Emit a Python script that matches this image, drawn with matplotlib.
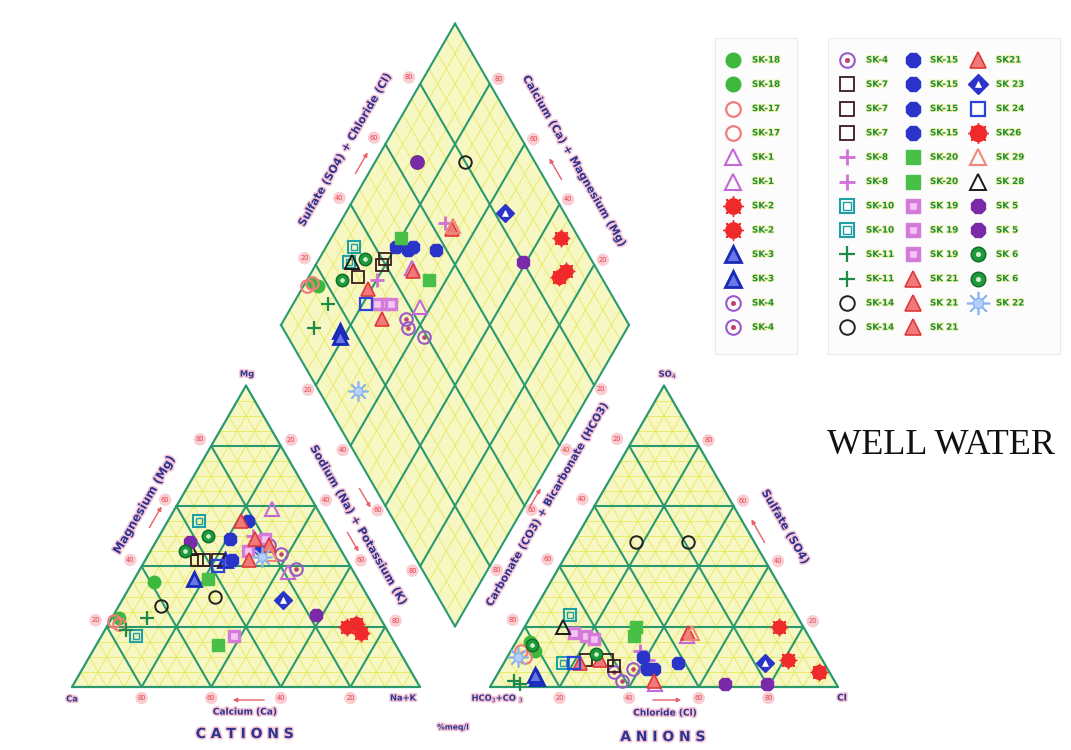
import numpy as np
import matplotlib
matplotlib.use('Agg')
import matplotlib.pyplot as plt
import matplotlib.patheffects as pe
from matplotlib.patches import Polygon, Rectangle

# ---------------- data ----------------
samples = ['SK-18', 'SK-18', 'SK-17', 'SK-17', 'SK-1', 'SK-1', 'SK-2', 'SK-2',
           'SK-3', 'SK-3', 'SK-4', 'SK-4', 'SK-4', 'SK-7', 'SK-7', 'SK-7',
           'SK-8', 'SK-8', 'SK-10', 'SK-10', 'SK-11', 'SK-11', 'SK-14', 'SK-14',
           'SK-15', 'SK-15', 'SK-15', 'SK-15', 'SK-20', 'SK-20', 'SK-19', 'SK-19',
           'SK-19', 'SK-21', 'SK-21', 'SK-21', 'SK-21', 'SK-23', 'SK-24', 'SK-26',
           'SK-29', 'SK-28', 'SK-5', 'SK-5', 'SK-6', 'SK-6', 'SK-22']

# cations: Mg % and Na+K % (Ca = remainder)
cation_mg = [35, 23, 21, 22, 59, 38, 20, 18, 36, 42, 39, 47, 44, 42, 42, 42,
             50, 47, 55, 17, 23, 19, 27, 30, 49, 55, 42, 46, 36, 14, 17, 49,
             45, 55, 49, 47, 42, 29, 40, 21, 44, 46, 24, 48, 50, 45, 43]
cation_nak = [6, 2, 3, 1, 28, 43, 69, 74, 17, 23, 45, 33, 38, 15, 17, 21,
              27, 32, 9, 10, 10, 6, 12, 26, 21, 23, 25, 31, 21, 35, 38, 31,
              28, 21, 28, 33, 30, 46, 22, 71, 35, 11, 58, 10, 14, 10, 33]

# anions: SO4 % and Cl % (HCO3+CO3 = remainder)
anion_so4 = [15, 12, 12, 10, 17, 1, 20, 9, 3, 4, 2, 5, 6, 9, 7, 9,
             12, 9, 24, 8, 1, 2, 48, 48, 10, 6, 8, 6, 17, 20, 18, 17,
             16, 9, 8, 18, 2, 8, 8, 5, 18, 20, 1, 1, 11, 14, 10]
anion_cl = [4, 7, 3, 5, 48, 47, 73, 81, 12, 11, 37, 33, 38, 29, 32, 23,
            37, 41, 11, 17, 8, 6, 18, 33, 39, 44, 50, 42, 33, 32, 15, 19,
            22, 27, 22, 48, 46, 75, 20, 92, 49, 11, 67, 79, 25, 5, 3]

# diamond: SO4+Cl % and Ca+Mg %
diamond_so4cl = [16, 17, 14, 16, 47, 43, 95, 91, 16, 15, 37, 39, 36, 39, 30, 41,
                 64, 35, 34, 30, 17, 9, 80, 66, 46, 49, 57, 51, 49, 50, 33, 35,
                 31, 30, 31, 65, 47, 83, 28, 88, 66, 31, 80, 66, 35, 25, 11]
diamond_camg = [98, 96, 99, 98, 72, 63, 34, 27, 82, 81, 65, 57, 63, 81, 86, 81,
                70, 80, 92, 91, 90, 90, 74, 88, 80, 76, 68, 75, 80, 65, 74, 72,
                76, 72, 81, 67, 71, 54, 79, 28, 67, 90, 41, 88, 87, 90, 67]

legend_col1 = ['SK-18', 'SK-18', 'SK-17', 'SK-17', 'SK-1', 'SK-1', 'SK-2', 'SK-2',
               'SK-3', 'SK-3', 'SK-4', 'SK-4']
legend_col2 = ['SK-4', 'SK-7', 'SK-7', 'SK-7', 'SK-8', 'SK-8', 'SK-10', 'SK-10',
               'SK-11', 'SK-11', 'SK-14', 'SK-14']
legend_col3 = ['SK-15', 'SK-15', 'SK-15', 'SK-15', 'SK-20', 'SK-20', 'SK 19', 'SK 19',
               'SK 19', 'SK 21', 'SK 21', 'SK 21']
legend_col4 = ['SK21', 'SK 23', 'SK 24', 'SK26', 'SK 29', 'SK 28', 'SK 5', 'SK 5',
               'SK 6', 'SK 6', 'SK 22']

grid_levels = [20, 40, 60, 80]
fine_levels = list(range(5, 100, 5))

# ---------------- layout ----------------
S = 348.0
H = S * np.sqrt(3) / 2
BASE_Y = 687.0
CAT_X0 = 72.0
GAP = 70.0
AN_X0 = CAT_X0 + S + GAP
DIA_X = CAT_X0 + S + GAP / 2
DIA_Y = BASE_Y - GAP / 2 * np.sqrt(3)


def cat_xy(mg, nak):
    mg = np.asarray(mg, float); nak = np.asarray(nak, float)
    return CAT_X0 + (nak + mg / 2) / 100 * S, BASE_Y - mg / 100 * H


def an_xy(so4, cl):
    so4 = np.asarray(so4, float); cl = np.asarray(cl, float)
    return AN_X0 + (cl + so4 / 2) / 100 * S, BASE_Y - so4 / 100 * H


def dia_xy(s, c):
    s = np.asarray(s, float); c = np.asarray(c, float)
    return DIA_X + (s - c) / 100 * S / 2, DIA_Y - (s + c) / 100 * H


RED = '#f02a2a'
STYLE = {
    'SK-18': [('o', '#3cb83c', '#3cb83c', 1.0, 1.0)],
    'SK-17': [('o', 'none', '#f07c7c', 1.0, 1.6)],
    'SK-1': [('^', 'none', '#c468d8', 1.05, 1.5)],
    'SK-2': [((8, 2, 0), 'none', RED, 1.4, 1.0), ('o', RED, RED, 1.05, 1.0)],
    'SK-3': [('^', '#6a78e6', '#1a2ab8', 1.05, 2.0)],
    'SK-4': [('o', 'none', '#9a58c8', 1.0, 1.5), ('o', '#c04070', '#c04070', 0.3, 0.5)],
    'SK-7': [('s', 'none', '#3a1c1c', 1.0, 1.3)],
    'SK-8': [('+', 'none', '#d070d8', 1.1, 2.0)],
    'SK-10': [('s', 'none', '#1ea0a8', 1.0, 1.5), ('s', 'none', '#1ea0a8', 0.5, 1.0)],
    'SK-11': [('+', 'none', '#1e8a4a', 1.1, 1.6)],
    'SK-14': [('o', 'none', '#222222', 1.0, 1.4)],
    'SK-15': [('8', '#2a34c8', '#2a34c8', 1.05, 1.0)],
    'SK-20': [('s', '#48c048', '#48c048', 1.0, 1.0)],
    'SK-19': [('s', '#d47ad8', '#d47ad8', 1.0, 1.0), ('s', '#f4c4f4', '#f4c4f4', 0.45, 0.5)],
    'SK-21': [('^', '#f07a7a', '#e03838', 1.1, 1.2)],
    'SK-23': [('D', '#2a34c8', '#2a34c8', 1.0, 1.0), ('^', 'white', 'white', 0.45, 0.5)],
    'SK-24': [('s', 'none', '#2a44d8', 1.0, 1.6)],
    'SK-26': [((8, 2, 0), 'none', RED, 1.4, 1.0), ('o', RED, RED, 1.1, 1.0)],
    'SK-29': [('^', 'none', '#f08878', 1.05, 1.5)],
    'SK-28': [('^', 'none', '#1a1a1a', 1.05, 1.4)],
    'SK-5': [('8', '#7a2aa8', '#7a2aa8', 1.05, 1.0)],
    'SK-6': [('o', '#1e9a3a', '#0e6a2a', 1.0, 1.0), ('o', '#d8f0d0', '#d8f0d0', 0.3, 0.5)],
    'SK-22': [((8, 2, 0), 'none', '#8cb4f0', 1.6, 1.2), ('o', '#b4d0f8', '#8cb4f0', 0.7, 1.0)],
}


def draw_marker(ax, xs, ys, name, ms, z):
    for (m, fc, ec, f, lw) in STYLE[name]:
        ax.plot(xs, ys, ls='none', marker=m, ms=ms * f, mfc=fc, mec=ec, mew=lw, zorder=z)


def key_of(label):
    return 'SK-' + ''.join(ch for ch in label if ch.isdigit())


fig = plt.figure(figsize=(10.71, 7.5), dpi=100)
ax = fig.add_axes([0, 0, 1, 1])
ax.set_xlim(0, 1071)
ax.set_ylim(750, 0)
ax.axis('off')

FILL = '#f7f7c4'
FINE = '#e8e85a'
GRID = '#2a9a6e'
BLUE = '#2b3590'
PINK = '#f6c4d4'
halo = [pe.withStroke(linewidth=2.2, foreground=PINK)]

# ---- fills ----
for fn in (cat_xy, an_xy):
    xs, ys = fn([0, 0, 100], [0, 100, 0])
    ax.add_patch(Polygon(np.column_stack([xs, ys]), closed=True, fc=FILL, ec='none', zorder=1))
xs, ys = dia_xy([0, 100, 100, 0], [0, 0, 100, 100])
ax.add_patch(Polygon(np.column_stack([xs, ys]), closed=True, fc=FILL, ec='none', zorder=1))


def tri_lines(fn, levels, color, lw, z):
    for v in levels:
        for (a0, b0, a1, b1) in [(v, 0, v, 100 - v), (0, v, 100 - v, v), (0, 100 - v, 100 - v, 0)]:
            x, y = fn([a0, a1], [b0, b1])
            ax.plot(x, y, color=color, lw=lw, zorder=z, solid_capstyle='round')


def dia_lines(levels, color, lw, z):
    for v in levels:
        x, y = dia_xy([v, v], [0, 100]); ax.plot(x, y, color=color, lw=lw, zorder=z)
        x, y = dia_xy([0, 100], [v, v]); ax.plot(x, y, color=color, lw=lw, zorder=z)


for fn in (cat_xy, an_xy):
    tri_lines(fn, fine_levels, FINE, 0.6, 2)
    tri_lines(fn, grid_levels, GRID, 1.5, 3)
    tri_lines(fn, [0], GRID, 1.6, 3)
dia_lines(fine_levels, FINE, 0.6, 2)
dia_lines(grid_levels + [0, 100], GRID, 1.5, 3)

# ---- tick labels ----
def tick(x, y, txt):
    ax.text(x, y, txt, fontsize=4.8, color='#e8404a', ha='center', va='center', zorder=4,
            bbox=dict(boxstyle='circle,pad=0.3', fc='#f9c6cc', ec='none', alpha=0.85))

n_ul = np.array([-0.866, -0.5]); n_ur = np.array([0.866, -0.5])
n_ll = np.array([-0.866, 0.5]); n_lr = np.array([0.866, 0.5])
for v in grid_levels:
    x, y = cat_xy(0, 100 - v); tick(x, y + 11, str(v))
    x, y = cat_xy(v, 0); tick(x + n_ul[0] * 13, y + n_ul[1] * 13, str(v))
    x, y = cat_xy(v, 100 - v); tick(x + n_ur[0] * 12, y + n_ur[1] * 12, str(100 - v))
    x, y = an_xy(0, v); tick(x, y + 11, str(v))
    x, y = an_xy(v, 0); tick(x + n_ul[0] * 14, y + n_ul[1] * 14, str(100 - v))
    x, y = an_xy(v, 100 - v); tick(x + n_ur[0] * 11, y + n_ur[1] * 11, str(v))
    x, y = dia_xy(v, 100); tick(x + n_ul[0] * 13, y + n_ul[1] * 13, str(v))
    x, y = dia_xy(100, v); tick(x + n_ur[0] * 10, y + n_ur[1] * 10, str(v))
    x, y = dia_xy(0, v); tick(x + n_ll[0] * 9, y + n_ll[1] * 9, str(100 - v))
    x, y = dia_xy(v, 0); tick(x + n_lr[0] * 8, y + n_lr[1] * 8, str(100 - v))

# ---- axis titles ----
def lab(x, y, txt, size, rot=0, **kw):
    ax.text(x, y, txt, fontsize=size, color=BLUE, fontweight='bold', rotation=rot,
            ha='center', va='center', rotation_mode='anchor', path_effects=halo, zorder=6, **kw)

lab(144, 505, 'Magnesium (Mg)', 8.5, 60)
lab(358, 525, 'Sodium (Na) + Potassium (K)', 8, -60)
lab(245, 712, 'Calcium (Ca)', 6.5)
lab(245, 734, 'C A T I O N S', 10)
lab(247, 374, 'Mg', 6)
lab(72, 699, 'Ca', 6)
lab(403, 698, 'Na+K', 6)

lab(547, 505, 'Carbonate (CO3) + Bicarbonate (HCO3)', 7.6, 60)
lab(785, 527, 'Sulfate (SO4)', 8, -60)
lab(665, 713, 'Chloride (Cl)', 6.5)
lab(663, 737, 'A N I O N S', 10)
lab(668, 374, r'SO$_4$', 6)
lab(498, 698, r'HCO$_3$+CO $_3$', 6)
lab(842, 698, 'Cl', 6.5)
lab(453, 727, '%meq/l', 5.5)

lab(345, 150, 'Sulfate (SO4) + Chloride (Cl)', 7.8, 60)
lab(574, 161, 'Calcium (Ca) + Magnesium (Mg)', 7.8, -60)

# ---- red arrows ----
arrows = [((267, 700), (230, 700)), ((148, 530), (163, 504)), ((358, 486), (372, 510)),
          ((346, 530), (360, 554)), ((650, 700), (684, 700)), ((766, 545), (750, 517)),
          ((528, 510), (542, 486)), ((354, 176), (369, 150)), ((563, 182), (548, 156))]
for tail, head in arrows:
    ax.annotate('', xy=head, xytext=tail, zorder=5,
                arrowprops=dict(arrowstyle='-|>', color='#e8606a', lw=1.0, mutation_scale=6))

# ---- data points ----
for i, name in enumerate(samples):
    z = 10 + i * 0.01
    x, y = cat_xy(cation_mg[i], cation_nak[i]); draw_marker(ax, [x], [y], name, 9, z)
    x, y = an_xy(anion_so4[i], anion_cl[i]); draw_marker(ax, [x], [y], name, 9, z)
    x, y = dia_xy(diamond_so4cl[i], diamond_camg[i]); draw_marker(ax, [x], [y], name, 9, z)

# ---- legend ----
ax.add_patch(Rectangle((715, 38), 82, 316, fc='#fcfcfc', ec='#ececec', lw=0.8, zorder=1))
ax.add_patch(Rectangle((828, 38), 232, 316, fc='#fcfcfc', ec='#ececec', lw=0.8, zorder=1))
leg_cols = [(legend_col1, 733, 752), (legend_col2, 847, 866), (legend_col3, 913, 930),
            (legend_col4, 978, 996)]
for labels, xm, xt in leg_cols:
    for r, t in enumerate(labels):
        yy = 60 + r * 24.3
        draw_marker(ax, [xm], [yy], key_of(t), 10.5, 10)
        ax.text(xt, yy, t, fontsize=6.3, fontweight='bold', color='#1e8c3c', va='center',
                ha='left', zorder=10,
                path_effects=[pe.withStroke(linewidth=1.5, foreground='#f2f2b0')])

ax.text(941, 445, 'WELL WATER', fontsize=26, family='Liberation Serif', color='#111111',
        ha='center', va='center')

fig.savefig('out.png', dpi=100)
